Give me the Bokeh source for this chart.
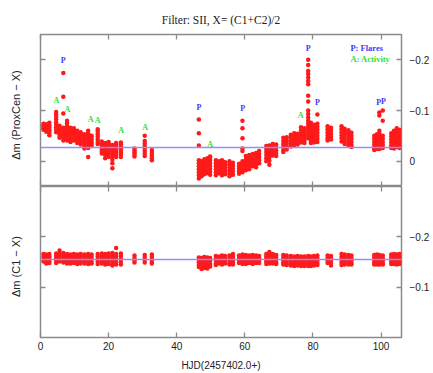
from bokeh.plotting import figure
from bokeh.layouts import column
from bokeh.models import Span, FixedTicker, LinearAxis, Label, ColumnDataSource, Range1d
from bokeh.core.properties import value
from bokeh.embed import file_html
from bokeh.resources import INLINE

# ---------------- data ----------------
days = [0.9, 1.7, 2.6, 4.6, 5.6, 6.7, 7.8, 8.8, 9.8, 10.8, 11.8, 12.9, 14.0, 15.0,
        16.8, 18.0, 19.0, 20.0, 21.1, 22.2, 23.6, 27.6, 30.6, 32.7, 46.5, 47.3,
        48.1, 49.0, 49.8, 51.5, 52.5, 53.3, 54.2, 55.5, 56.5, 58.3, 59.3, 60.3,
        61.3, 62.3, 63.3, 64.2, 66.3, 67.2, 68.2, 69.2, 71.3, 72.3, 73.5, 74.5,
        75.5, 76.5, 77.5, 78.6, 79.4, 80.3, 81.3, 84.3, 85.3, 88.4, 89.3, 90.4,
        91.3, 98.0, 98.8, 99.5, 100.5, 103.0, 103.8, 104.6, 105.4]

# Delta m (ProxCen - X) per night
top_vals = [
    [-0.074, -0.071, -0.068, -0.065, -0.062],
    [-0.073, -0.069, -0.065, -0.061, -0.058],
    [-0.076, -0.071, -0.066, -0.061, -0.056, -0.051],
    [-0.097, -0.092, -0.087, -0.082, -0.077, -0.072, -0.067, -0.062, -0.057],
    [-0.070, -0.066, -0.062, -0.058, -0.054, -0.050, -0.046],
    [-0.174, -0.127, -0.094, -0.066, -0.062, -0.058, -0.054, -0.050, -0.046, -0.041],
    [-0.080, -0.075, -0.070, -0.065, -0.060, -0.055, -0.050, -0.045, -0.041],
    [-0.066, -0.062, -0.058, -0.054, -0.050, -0.046, -0.042, -0.038],
    [-0.065, -0.061, -0.057, -0.053, -0.049, -0.045, -0.041],
    [-0.060, -0.056, -0.052, -0.048, -0.044, -0.040, -0.036],
    [-0.057, -0.053, -0.049, -0.045, -0.041, -0.037, -0.033],
    [-0.053, -0.049, -0.045, -0.041, -0.037, -0.033, -0.029, -0.025],
    [-0.060, -0.055, -0.050, -0.045, -0.040, -0.035, -0.030, -0.026, -0.008],
    [-0.050, -0.046, -0.042, -0.038, -0.034, -0.030],
    [-0.063, -0.058, -0.053, -0.048, -0.043, -0.038, -0.034],
    [-0.039, -0.035, -0.031, -0.027, -0.023, -0.019, -0.015],
    [-0.036, -0.032, -0.028, -0.024, -0.020, -0.016, -0.012, -0.006],
    [-0.038, -0.034, -0.030, -0.026, -0.022, -0.018, -0.014, -0.008],
    [-0.032, -0.028, -0.024, -0.020, -0.016, -0.012, -0.008, -0.003, 0.004, 0.014],
    [-0.036, -0.032, -0.028, -0.024, -0.020, -0.016, -0.012, -0.008],
    [-0.037, -0.033, -0.029, -0.025, -0.021, -0.017, -0.013, -0.008],
    [-0.025, -0.021, -0.017, -0.013, -0.009],
    [-0.050, -0.040, -0.035, -0.030, -0.025, -0.020, -0.015, -0.010],
    [-0.022, -0.018, -0.014, -0.010, -0.006, -0.002],
    [-0.082, -0.055, -0.031, -0.002, 0.004, 0.010, 0.016, 0.022, 0.028, 0.034],
    [0.000, 0.006, 0.012, 0.018, 0.024, 0.030],
    [-0.004, 0.002, 0.008, 0.014, 0.020, 0.026],
    [-0.006, 0.000, 0.006, 0.012, 0.018, 0.024],
    [-0.009, -0.003, 0.003, 0.009, 0.015, 0.021, 0.027],
    [-0.002, 0.004, 0.010, 0.016, 0.022, 0.028],
    [0.000, 0.006, 0.012, 0.018, 0.024],
    [-0.002, 0.004, 0.010, 0.016, 0.022, 0.028],
    [0.002, 0.008, 0.014, 0.020, 0.026],
    [0.000, 0.006, 0.012, 0.018, 0.024, 0.030],
    [0.003, 0.009, 0.015, 0.021, 0.027],
    [0.005, 0.010, 0.015, 0.020, 0.025],
    [-0.080, -0.065, -0.045, -0.025, -0.020, 0.000, 0.006, 0.012, 0.018, 0.022],
    [-0.010, -0.004, 0.002, 0.008, 0.014, 0.018],
    [-0.012, -0.006, 0.000, 0.006, 0.012, 0.016],
    [-0.014, -0.008, -0.002, 0.004, 0.010],
    [-0.016, -0.010, -0.004, 0.002, 0.008, 0.012],
    [-0.020, -0.014, -0.008, -0.002, 0.004],
    [-0.030, -0.024, -0.018, -0.012, -0.006, 0.000],
    [-0.031, -0.025, -0.019, -0.013, -0.007, -0.001, 0.007],
    [-0.034, -0.028, -0.022, -0.016, -0.011],
    [-0.033, -0.027, -0.021, -0.015, -0.010],
    [-0.046, -0.040, -0.034, -0.028, -0.022, -0.018],
    [-0.047, -0.041, -0.035, -0.029, -0.023],
    [-0.052, -0.046, -0.040, -0.034, -0.029],
    [-0.055, -0.049, -0.043, -0.037, -0.031],
    [-0.054, -0.049, -0.044, -0.039, -0.033],
    [-0.067, -0.061, -0.055, -0.049, -0.043, -0.037],
    [-0.065, -0.059, -0.053, -0.047, -0.041, -0.036],
    [-0.200, -0.190, -0.178, -0.172, -0.165, -0.158, -0.152, -0.129, -0.118, -0.100,
     -0.093, -0.086, -0.080, -0.074, -0.068, -0.062, -0.056, -0.050, -0.045],
    [-0.076, -0.070, -0.064, -0.058, -0.052, -0.046, -0.040, -0.036],
    [-0.072, -0.066, -0.060, -0.054, -0.048, -0.042, -0.037],
    [-0.092, -0.074, -0.068, -0.062, -0.056, -0.050, -0.044, -0.038],
    [-0.069, -0.063, -0.057, -0.051, -0.045, -0.041],
    [-0.066, -0.060, -0.054, -0.048, -0.043],
    [-0.069, -0.063, -0.057, -0.051, -0.045, -0.039],
    [-0.064, -0.058, -0.052, -0.046, -0.040, -0.034],
    [-0.061, -0.055, -0.049, -0.043, -0.037, -0.031],
    [-0.056, -0.050, -0.044, -0.038, -0.032, -0.028],
    [-0.050, -0.044, -0.038, -0.032, -0.026, -0.022],
    [-0.053, -0.047, -0.041, -0.035, -0.029, -0.024],
    [-0.096, -0.090, -0.060, -0.054, -0.048, -0.042, -0.036, -0.030, -0.024],
    [-0.100, -0.080, -0.050, -0.044, -0.038, -0.032, -0.026],
    [-0.055, -0.049, -0.043, -0.037, -0.031, -0.026],
    [-0.060, -0.054, -0.048, -0.042, -0.036, -0.030, -0.025],
    [-0.065, -0.058, -0.052, -0.046, -0.040, -0.034, -0.028],
    [-0.062, -0.056, -0.050, -0.044, -0.038, -0.032, -0.026],
]

# Delta m (C1 - X) per night
bot_vals = [
    [-0.166, -0.161, -0.156, -0.151],
    [-0.165, -0.160, -0.155, -0.150, -0.147],
    [-0.166, -0.161, -0.156, -0.151, -0.148],
    [-0.167, -0.162, -0.157, -0.152, -0.148],
    [-0.173, -0.166, -0.161, -0.156, -0.151],
    [-0.168, -0.163, -0.158, -0.153, -0.149],
    [-0.166, -0.161, -0.156, -0.151, -0.147],
    [-0.165, -0.160, -0.155, -0.150, -0.147],
    [-0.166, -0.161, -0.156, -0.151, -0.148],
    [-0.165, -0.160, -0.155, -0.150, -0.146],
    [-0.166, -0.161, -0.156, -0.151, -0.147],
    [-0.165, -0.160, -0.155, -0.150, -0.147],
    [-0.166, -0.161, -0.156, -0.151, -0.146],
    [-0.165, -0.160, -0.155, -0.150, -0.147],
    [-0.166, -0.161, -0.156, -0.151, -0.146],
    [-0.167, -0.162, -0.157, -0.152, -0.147],
    [-0.166, -0.161, -0.156, -0.151, -0.145],
    [-0.167, -0.162, -0.157, -0.152, -0.146],
    [-0.168, -0.163, -0.158, -0.152, -0.146, -0.143],
    [-0.178, -0.166, -0.161, -0.156, -0.150, -0.145],
    [-0.167, -0.162, -0.156, -0.150, -0.145],
    [-0.163, -0.158, -0.153, -0.149],
    [-0.164, -0.159, -0.154, -0.149],
    [-0.165, -0.160, -0.155, -0.150, -0.147],
    [-0.159, -0.154, -0.149, -0.144, -0.140],
    [-0.158, -0.152, -0.146, -0.141, -0.136],
    [-0.160, -0.154, -0.148, -0.143, -0.138],
    [-0.159, -0.153, -0.147, -0.142, -0.137],
    [-0.158, -0.152, -0.146, -0.141],
    [-0.162, -0.157, -0.152, -0.147, -0.144],
    [-0.161, -0.156, -0.151, -0.147],
    [-0.163, -0.158, -0.153, -0.148, -0.145],
    [-0.162, -0.157, -0.152, -0.147],
    [-0.163, -0.158, -0.153, -0.148, -0.145],
    [-0.166, -0.160, -0.154, -0.149, -0.145],
    [-0.163, -0.158, -0.153, -0.148],
    [-0.165, -0.160, -0.155, -0.150, -0.146],
    [-0.164, -0.159, -0.154, -0.149, -0.146],
    [-0.163, -0.158, -0.153, -0.148],
    [-0.164, -0.159, -0.154, -0.149, -0.146],
    [-0.163, -0.158, -0.153, -0.148],
    [-0.162, -0.157, -0.152, -0.148],
    [-0.166, -0.161, -0.156, -0.151, -0.146],
    [-0.170, -0.164, -0.158, -0.152, -0.147],
    [-0.166, -0.161, -0.156, -0.151, -0.147],
    [-0.164, -0.159, -0.154, -0.149, -0.146],
    [-0.164, -0.159, -0.154, -0.149, -0.145],
    [-0.163, -0.158, -0.153, -0.148, -0.144],
    [-0.162, -0.157, -0.152, -0.147, -0.143],
    [-0.161, -0.156, -0.151, -0.146, -0.142],
    [-0.162, -0.157, -0.152, -0.147, -0.143],
    [-0.161, -0.156, -0.151, -0.146, -0.142],
    [-0.161, -0.156, -0.151, -0.146, -0.142],
    [-0.162, -0.157, -0.152, -0.147, -0.142],
    [-0.161, -0.156, -0.151, -0.146, -0.142],
    [-0.162, -0.157, -0.152, -0.147, -0.143],
    [-0.163, -0.158, -0.153, -0.148, -0.144],
    [-0.163, -0.158, -0.153, -0.148],
    [-0.162, -0.157, -0.152, -0.147, -0.143],
    [-0.166, -0.160, -0.154, -0.149, -0.144],
    [-0.165, -0.160, -0.155, -0.150, -0.145],
    [-0.164, -0.159, -0.154, -0.149, -0.145],
    [-0.163, -0.158, -0.153, -0.148, -0.145],
    [-0.164, -0.159, -0.154, -0.149, -0.145],
    [-0.165, -0.160, -0.155, -0.150, -0.145],
    [-0.164, -0.159, -0.154, -0.149, -0.145],
    [-0.163, -0.158, -0.153, -0.148, -0.145],
    [-0.165, -0.160, -0.155, -0.150, -0.146],
    [-0.166, -0.161, -0.156, -0.151, -0.146],
    [-0.165, -0.160, -0.155, -0.150, -0.145],
    [-0.166, -0.161, -0.156, -0.151, -0.146],
]

top_ref = -0.027      # reference (mean) line, upper panel
bot_ref = -0.155      # reference (mean) line, lower panel

flare_x = [6.7, 46.5, 59.4, 78.6, 81.3, 99.3, 100.7]
flare_y = [-0.198, -0.106, -0.104, -0.222, -0.116, -0.116, -0.118]
activity_x = [4.7, 7.9, 14.7, 16.8, 23.7, 30.7, 49.8, 76.4]
activity_y = [-0.120, -0.102, -0.082, -0.080, -0.061, -0.067, -0.033, -0.090]

top_yticks = [-0.2, -0.1, 0.0]
bot_yticks = [-0.2, -0.1]
xticks = [0, 20, 40, 60, 80, 100]
ytick_labels = {-0.2: "\u22120.2", -0.1: "\u22120.1", 0.0: "0"}

assert len(days) == len(top_vals) == len(bot_vals)

# ---------------- build ----------------
tx = [d for d, vs in zip(days, top_vals) for _ in vs]
ty = [v for vs in top_vals for v in vs]
bx = [d for d, vs in zip(days, bot_vals) for _ in vs]
by = [v for vs in bot_vals for v in vs]

W = 433
FRAME_COLOR = "#8a8a8a"
RED = "#ff1a1a"
LINE_BLUE = "#8f8fff"
SANS = "Liberation Sans"
SERIF = "Liberation Serif"


def tick_style(ax, ticks):
    ax.ticker = FixedTicker(ticks=ticks)
    ax.axis_line_color = None
    ax.major_tick_line_color = FRAME_COLOR
    ax.major_tick_line_width = 1.3
    ax.major_tick_in = 5
    ax.major_tick_out = 0
    ax.minor_tick_line_color = None
    ax.major_label_text_font = SANS
    ax.major_label_text_color = "#222222"


def no_labels(ax):
    ax.major_label_text_color = None
    ax.major_label_text_font_size = "1px"
    ax.major_label_standoff = 0


def make_fig(height, yr, yticks, ylabel, bottom_border, top_border):
    p = figure(width=W, height=height, x_range=Range1d(0, 106), y_range=yr,
               output_backend="svg", toolbar_location=None,
               min_border_left=40, min_border_right=32,
               min_border_top=top_border, min_border_bottom=bottom_border)
    p.background_fill_color = "white"
    p.border_fill_color = "white"
    p.grid.visible = False
    p.outline_line_color = FRAME_COLOR
    p.outline_line_width = 1.5
    p.add_layout(LinearAxis(), "right")
    p.add_layout(LinearAxis(), "above")
    left, right = p.left[0], p.right[0]
    below, above = p.below[0], p.above[0]
    for ax in (below, above):
        tick_style(ax, xticks)
    for ax in (left, right):
        tick_style(ax, yticks)
    no_labels(left)
    left.axis_label = ylabel
    left.axis_label_text_font = SANS
    left.axis_label_text_font_style = "normal"
    left.axis_label_text_font_size = "11px"
    left.axis_label_text_color = "#222222"
    left.axis_label_standoff = 19
    right.major_label_text_font_size = "10px"
    right.major_label_standoff = 8
    right.major_label_overrides = ytick_labels
    no_labels(above)
    return p


p1 = make_fig(186, Range1d(0.05, -0.25), top_yticks,
              "\u0394m  (ProxCen  \u2212  X)", 0, 34)
no_labels(p1.below[0])
p1.title.text = "Filter: SII, X= (C1+C2)/2"
p1.title.align = "center"
p1.title.vertical_align = "top"
p1.title.text_font = SERIF
p1.title.text_font_size = "11.5px"
p1.title.text_font_style = "normal"
p1.title.text_color = "#222222"
p1.title.standoff = 13

p1.add_layout(Span(location=top_ref, dimension="width", line_color=LINE_BLUE, line_width=1.5))
p1.scatter(tx, ty, size=4.5, color=RED, line_color=None)

fsrc = ColumnDataSource(dict(x=flare_x, y=flare_y, t=["P"] * len(flare_x)))
asrc = ColumnDataSource(dict(x=activity_x, y=activity_y, t=["A"] * len(activity_x)))
p1.text("x", "y", text="t", source=fsrc, text_color="#3a3aff", text_font=value(SERIF),
        text_font_size="8px", text_font_style="bold", text_align="center",
        text_baseline="middle")
p1.text("x", "y", text="t", source=asrc, text_color="#33dd33", text_font=value(SERIF),
        text_font_size="8px", text_font_style="bold", text_align="center",
        text_baseline="middle")
p1.add_layout(Label(x=91.0, y=-0.2235, text="P: Flares", text_color="#3a3aff",
                    text_font=SERIF, text_font_size="8.5px", text_font_style="bold",
                    text_baseline="middle"))
p1.add_layout(Label(x=91.0, y=-0.202, text="A: Activity", text_color="#33dd33",
                    text_font=SERIF, text_font_size="8.5px", text_font_style="bold",
                    text_baseline="middle"))

p2 = make_fig(187, Range1d(0.0, -0.3), bot_yticks,
              "\u0394m  (C1  \u2212  X)", 35, 0)
bx_ax = p2.below[0]
bx_ax.major_label_text_font_size = "10px"
bx_ax.major_label_standoff = 4
bx_ax.axis_label = "HJD(2457402.0+)"
bx_ax.axis_label_text_font = SANS
bx_ax.axis_label_text_font_style = "normal"
bx_ax.axis_label_text_font_size = "10px"
bx_ax.axis_label_text_color = "#222222"
bx_ax.axis_label_standoff = 7

p2.add_layout(Span(location=bot_ref, dimension="width", line_color=LINE_BLUE, line_width=1.5))
p2.scatter(bx, by, size=4.5, color=RED, line_color=None)

layout = column(p1, p2)
open("out.html", "w").write(file_html(layout, INLINE))
